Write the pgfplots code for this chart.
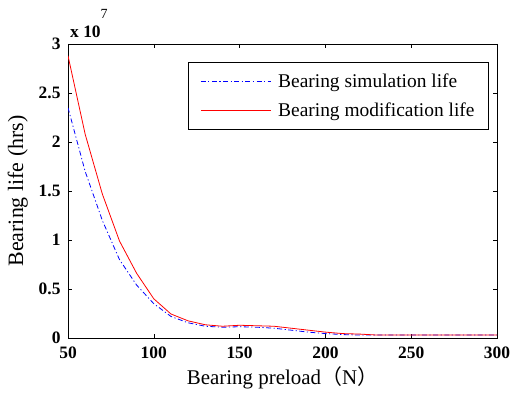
\documentclass[border=0pt]{standalone}
\usepackage{pgfplots}
\pgfplotsset{compat=1.18}
\usepackage{fontspec}
\setmainfont{Liberation Serif}
\newfontfamily\cjk{Noto Sans CJK SC}
\begin{document}
\begin{tikzpicture}
\path[use as bounding box] (-68bp,-59bp) rectangle (462bp,338bp);
\begin{axis}[
  name=ax,
  at={(0,0)}, anchor=south west,
  scale only axis, width=429bp, height=294bp,
  xmin=50, xmax=300, ymin=0, ymax=3,
  xtick={50,100,...,300}, ytick={0,0.5,...,3},
  tick align=inside, major tick length=4bp,
  xtick pos=both, ytick pos=both,
  axis line style={line width=0.8pt},
  tick style={line width=0.6pt, black},
  /pgf/number format/assume math mode=true,
  tick label style={font=\fontsize{17.5}{20}\selectfont\bfseries},
  yticklabel style={/pgf/number format/fixed, /pgf/number format/precision=1, xshift=-4bp},
  xticklabel style={yshift=-5bp},
  xlabel={Bearing preload{\cjk（}N{\cjk）}},
  ylabel={Bearing life (hrs)},
  xlabel style={font=\fontsize{21}{24}\selectfont, yshift=-1bp},
  ylabel style={font=\fontsize{22}{25}\selectfont, yshift=4bp},
  legend style={at={(0.981,0.939)}, anchor=north east, draw=black, line width=0.6pt,
    fill=white, font=\fontsize{19.5}{22}\selectfont, row sep=9bp, inner xsep=12bp, inner ysep=10bp,
    cells={anchor=west}},
  legend image code/.code={\draw[#1, line width=0.8pt] (0bp,0bp) -- (70bp,0bp); \path (75bp,0bp);},
]
\addplot[blue, line width=0.8pt, dash pattern=on 5pt off 2.5pt on 1.2pt off 2.5pt] coordinates {
(50,2.35) (60,1.70) (70,1.20) (80,0.80) (90,0.54) (100,0.35) (110,0.22) (120,0.155)
(130,0.12) (140,0.11) (150,0.115) (160,0.11) (170,0.10) (180,0.08) (190,0.06)
(200,0.045) (210,0.035) (220,0.03) (230,0.03) (240,0.03) (250,0.03) (260,0.03)
(270,0.03) (280,0.03) (290,0.03) (300,0.03)};
\addlegendentry{Bearing simulation life}
\addplot[red, line width=0.8pt] coordinates {
(50,2.88) (60,2.08) (70,1.47) (80,0.99) (90,0.66) (100,0.40) (110,0.245) (120,0.175)
(130,0.135) (140,0.12) (150,0.13) (160,0.125) (170,0.12) (180,0.10) (190,0.08)
(200,0.06) (210,0.045) (220,0.04) (230,0.03) (240,0.03) (250,0.03) (260,0.03)
(270,0.03) (280,0.03) (290,0.03) (300,0.03)};
\addlegendentry{Bearing modification life}
\end{axis}
\node[anchor=base west, inner sep=0pt, font=\fontsize{17.5}{20}\selectfont] at ([xshift=2bp,yshift=6bp]ax.north west)
  {\textbf{x 10}\raisebox{2.4ex}{\fontsize{14}{16}\selectfont 7}};
\end{tikzpicture}
\end{document}
